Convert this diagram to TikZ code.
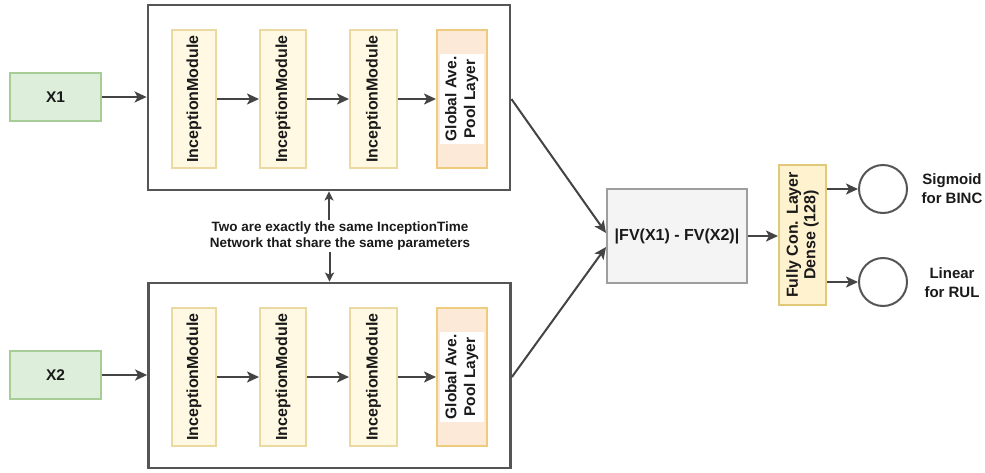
\documentclass[tikz,border=0pt]{standalone}
\usepackage{fontspec}
\setmainfont{Liberation Sans}
\usetikzlibrary{arrows.meta,calc}
\definecolor{frameC}{HTML}{555555}
\definecolor{arrowC}{HTML}{444444}
\definecolor{txtC}{HTML}{1A1A1A}
\definecolor{greenF}{HTML}{DDEFDA}
\definecolor{greenD}{HTML}{A8CC98}
\definecolor{modF}{HTML}{FFF9E3}
\definecolor{modD}{HTML}{EAD9A0}
\definecolor{poolF}{HTML}{FCE9D8}
\definecolor{poolD}{HTML}{EFCB7E}
\definecolor{fvF}{HTML}{F4F4F4}
\definecolor{fvD}{HTML}{9E9E9E}
\definecolor{fcF}{HTML}{FFF3CF}
\definecolor{fcD}{HTML}{E2C97A}
\newcommand{\whitelines}[2]{{\setlength{\fboxsep}{3pt}\colorbox{white}{\begin{tabular}{@{}c@{}}#1\\#2\end{tabular}}}}
\begin{document}
\begin{tikzpicture}[x=1pt,y=-1pt,
  every node/.style={text=txtC},
  frame/.style={draw=frameC, line width=2.8pt, fill=white, minimum width=362pt, minimum height=185pt, inner sep=0pt},
  inbox/.style={draw=greenD, fill=greenF, line width=2pt, minimum width=91pt, minimum height=48pt, font=\bfseries\fontsize{15.5}{17}\selectfont},
  module/.style={draw=modD, fill=modF, line width=2pt, rotate=90, minimum width=138pt, minimum height=45pt, inner sep=0pt, font=\bfseries\fontsize{16}{17}\selectfont},
  pool/.style={module, draw=poolD, fill=poolF, minimum height=50pt, font=\bfseries\fontsize{15.5}{18}\selectfont\renewcommand{\arraystretch}{1.05}},
  fvbox/.style={draw=fvD, fill=fvF, line width=2pt, minimum width=140pt, minimum height=94pt, inner sep=0pt, font=\bfseries\fontsize{16}{18}\selectfont},
  fcbox/.style={draw=fcD, fill=fcF, line width=2pt, rotate=90, minimum width=140pt, minimum height=47pt, inner sep=0pt, align=center, font=\bfseries\fontsize{16}{17.5}\selectfont},
  outc/.style={circle, draw=frameC, fill=white, line width=2pt, minimum size=48pt, inner sep=0pt},
  lab/.style={align=center, font=\bfseries\fontsize{15}{19}\selectfont},
  note/.style={align=center, inner sep=2pt, font=\bfseries\fontsize{13.5}{16}\selectfont},
  conn/.style={draw=arrowC, line width=2pt, -{Stealth[length=12pt,width=11pt,inset=3pt]}},
  conn2/.style={draw=arrowC, line width=2pt, -{Stealth[length=9pt,width=9pt,inset=2pt]}}
]
\useasboundingbox (0,0) rectangle (985,472);
\fill[white] (0,0) rectangle (985,472);
% top branch
\node[frame] (top) at (329,97.5) {};
\node[inbox] (x1) at (55.5,97) {X1};
\node[module, minimum height=44pt] (ma1) at (194,99) {InceptionModule};
\node[module, minimum height=46pt] (ma2) at (283,99) {InceptionModule};
\node[module, minimum height=47pt] (ma3) at (373.5,99) {InceptionModule};
\node[pool] (pa) at (462,99) {\whitelines{Global Ave.}{Pool Layer}};
% bottom branch
\node[frame] (bot) at (329.5,375.5) {};
\node[inbox] (x2) at (55.5,375) {X2};
\node[module, minimum height=44pt] (mb1) at (194,377) {InceptionModule};
\node[module, minimum height=46pt] (mb2) at (283,377) {InceptionModule};
\node[module, minimum height=47pt] (mb3) at (373.5,377) {InceptionModule};
\node[pool] (pb) at (462,377) {\whitelines{Global Ave.}{Pool Layer}};
% note
\node[note] (note) at (340,236) {Two are exactly the same InceptionTime\\Network that share the same parameters};
% right part
\node[fvbox] (fv) at (677,236) {|FV(X1) - FV(X2)|};
\node[fcbox] (fc) at (802.5,235) {Fully Con. Layer\\Dense (128)};
\node[outc] (c1) at (883,189) {};
\node[outc] (c2) at (883,282) {};
\node[lab] (l1) at (952,189) {Sigmoid\\for BINC};
\node[lab] (l2) at (952,283) {Linear\\for RUL};
% connectors
\draw[conn] (x1) -- (x1 -| top.west);
\draw[conn] (ma1) -- (ma2);
\draw[conn] (ma2) -- (ma3);
\draw[conn] (ma3) -- (pa);
\draw[conn] (x2) -- (x2 -| bot.west);
\draw[conn] (mb1) -- (mb2);
\draw[conn] (mb2) -- (mb3);
\draw[conn] (mb3) -- (pb);
\draw[conn2] (note.north -| top.south) -- (top.south);
\draw[conn2] (note.south -| bot.north) -- (bot.north);
\draw[conn] (top.east |- pa) -- ([yshift=3pt]fv.west);
\draw[conn] (bot.east |- pb) -- ([yshift=-11pt]fv.west);
\draw[conn] (fv.east) -- (fv.east -| fc.north);
\draw[conn] (fc.south |- c1) -- (c1);
\draw[conn] (fc.south |- c2) -- (c2);
\end{tikzpicture}
\end{document}
